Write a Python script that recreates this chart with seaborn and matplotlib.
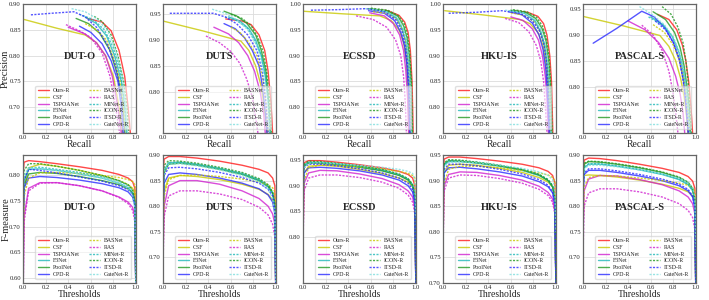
import pandas as pd
import matplotlib
matplotlib.use('Agg')
import matplotlib.pyplot as plt
import seaborn as sns

methods = ['Ours-R', 'CSF', 'TSPOANet', 'F3Net', 'PoolNet', 'CPD-R',
           'BASNet', 'RAS', 'MINet-R', 'ICON-R', 'ITSD-R', 'GateNet-R']
datasets = ['DUT-O', 'DUTS', 'ECSSD', 'HKU-IS', 'PASCAL-S']
thresholds = [0.0, 0.01, 0.05, 0.15, 0.3, 0.5, 0.7, 0.85, 0.93, 0.97, 0.99, 1.0]

# ---- PR curves (recall, precision) ----
dut_o_recall = {
    'Ours-R': [0.57, 0.70, 0.78, 0.85, 0.90, 0.93, 0.95],
    'CSF': [0.01, 0.30, 0.55, 0.65, 0.73, 0.80, 0.85, 0.88],
    'TSPOANet': [0.40, 0.55, 0.65, 0.73, 0.79, 0.84, 0.87],
    'F3Net': [0.55, 0.65, 0.74, 0.81, 0.87, 0.90, 0.915],
    'PoolNet': [0.47, 0.58, 0.68, 0.77, 0.84, 0.88, 0.90],
    'CPD-R': [0.50, 0.60, 0.70, 0.78, 0.84, 0.87, 0.885],
    'BASNet': [0.55, 0.65, 0.74, 0.81, 0.86, 0.89, 0.90],
    'RAS': [0.38, 0.50, 0.60, 0.70, 0.77, 0.82, 0.855],
    'MINet-R': [0.50, 0.62, 0.72, 0.80, 0.86, 0.90, 0.92],
    'ICON-R': [0.63, 0.70, 0.78, 0.84, 0.89, 0.92, 0.935],
    'ITSD-R': [0.07, 0.25, 0.45, 0.55, 0.65, 0.75, 0.82, 0.87, 0.895],
    'GateNet-R': [0.43, 0.55, 0.65, 0.75, 0.82, 0.88, 0.91, 0.925],
}
dut_o_precision = {
    'Ours-R': [0.872, 0.865, 0.848, 0.81, 0.76, 0.70, 0.65],
    'CSF': [0.870, 0.853, 0.840, 0.825, 0.80, 0.76, 0.70, 0.65],
    'TSPOANet': [0.855, 0.842, 0.825, 0.80, 0.76, 0.70, 0.65],
    'F3Net': [0.875, 0.862, 0.838, 0.80, 0.75, 0.70, 0.65],
    'PoolNet': [0.872, 0.862, 0.843, 0.81, 0.76, 0.71, 0.65],
    'CPD-R': [0.857, 0.845, 0.823, 0.79, 0.75, 0.70, 0.65],
    'BASNet': [0.862, 0.85, 0.83, 0.79, 0.75, 0.70, 0.65],
    'RAS': [0.860, 0.848, 0.835, 0.805, 0.76, 0.70, 0.65],
    'MINet-R': [0.880, 0.870, 0.850, 0.815, 0.77, 0.71, 0.65],
    'ICON-R': [0.876, 0.866, 0.84, 0.80, 0.75, 0.70, 0.65],
    'ITSD-R': [0.879, 0.882, 0.885, 0.875, 0.855, 0.82, 0.78, 0.72, 0.65],
    'GateNet-R': [0.891, 0.885, 0.872, 0.848, 0.81, 0.76, 0.70, 0.65],
}

duts_recall = {
    'Ours-R': [0.555, 0.70, 0.78, 0.85, 0.90, 0.93, 0.955, 0.97],
    'CSF': [0.0, 0.35, 0.69, 0.76, 0.82, 0.87, 0.90, 0.92],
    'TSPOANet': [0.45, 0.58, 0.67, 0.75, 0.81, 0.86, 0.89, 0.905],
    'F3Net': [0.58, 0.68, 0.76, 0.82, 0.87, 0.905, 0.93, 0.945],
    'PoolNet': [0.54, 0.65, 0.74, 0.82, 0.87, 0.91, 0.935, 0.95],
    'CPD-R': [0.54, 0.64, 0.72, 0.79, 0.85, 0.88, 0.905, 0.92],
    'BASNet': [0.60, 0.68, 0.76, 0.83, 0.88, 0.91, 0.93],
    'RAS': [0.38, 0.50, 0.60, 0.68, 0.74, 0.79, 0.82, 0.84],
    'MINet-R': [0.55, 0.65, 0.74, 0.81, 0.87, 0.91, 0.935, 0.95],
    'ICON-R': [0.60, 0.70, 0.78, 0.84, 0.89, 0.92, 0.945, 0.96],
    'ITSD-R': [0.06, 0.25, 0.445, 0.55, 0.65, 0.75, 0.83, 0.88, 0.91, 0.93],
    'GateNet-R': [0.435, 0.55, 0.65, 0.75, 0.83, 0.88, 0.92, 0.945],
}
duts_precision = {
    'Ours-R': [0.941, 0.937, 0.93, 0.91, 0.88, 0.84, 0.78, 0.72],
    'CSF': [0.937, 0.918, 0.898, 0.88, 0.85, 0.81, 0.76, 0.72],
    'TSPOANet': [0.925, 0.912, 0.895, 0.87, 0.84, 0.80, 0.76, 0.72],
    'F3Net': [0.945, 0.937, 0.922, 0.90, 0.87, 0.83, 0.78, 0.72],
    'PoolNet': [0.956, 0.947, 0.933, 0.91, 0.88, 0.84, 0.78, 0.72],
    'CPD-R': [0.932, 0.922, 0.905, 0.88, 0.85, 0.81, 0.76, 0.72],
    'BASNet': [0.925, 0.915, 0.895, 0.87, 0.83, 0.78, 0.72],
    'RAS': [0.908, 0.895, 0.878, 0.855, 0.825, 0.79, 0.75, 0.72],
    'MINet-R': [0.945, 0.938, 0.925, 0.90, 0.87, 0.83, 0.78, 0.72],
    'ICON-R': [0.950, 0.942, 0.928, 0.905, 0.875, 0.835, 0.78, 0.72],
    'ITSD-R': [0.952, 0.952, 0.952, 0.945, 0.932, 0.91, 0.88, 0.84, 0.78, 0.72],
    'GateNet-R': [0.960, 0.952, 0.94, 0.92, 0.89, 0.85, 0.79, 0.72],
}

ecssd_recall = {
    'Ours-R': [0.58, 0.75, 0.85, 0.90, 0.93, 0.95, 0.965, 0.975],
    'CSF': [0.0, 0.35, 0.68, 0.78, 0.85, 0.89, 0.915, 0.93, 0.94],
    'TSPOANet': [0.59, 0.72, 0.80, 0.855, 0.89, 0.91, 0.925, 0.935],
    'F3Net': [0.60, 0.74, 0.83, 0.88, 0.91, 0.93, 0.945, 0.955],
    'PoolNet': [0.58, 0.74, 0.84, 0.89, 0.92, 0.94, 0.955, 0.965],
    'CPD-R': [0.58, 0.72, 0.81, 0.865, 0.90, 0.92, 0.935, 0.945],
    'BASNet': [0.62, 0.74, 0.83, 0.88, 0.91, 0.93, 0.945, 0.955],
    'RAS': [0.47, 0.62, 0.74, 0.82, 0.865, 0.89, 0.905, 0.915],
    'MINet-R': [0.58, 0.73, 0.83, 0.885, 0.915, 0.935, 0.95, 0.96],
    'ICON-R': [0.60, 0.75, 0.84, 0.895, 0.925, 0.945, 0.96, 0.97],
    'ITSD-R': [0.07, 0.30, 0.56, 0.72, 0.82, 0.875, 0.905, 0.925, 0.94, 0.95],
    'GateNet-R': [0.55, 0.72, 0.83, 0.885, 0.915, 0.935, 0.95, 0.96],
}
ecssd_precision = {
    'Ours-R': [0.990, 0.987, 0.978, 0.965, 0.945, 0.91, 0.85, 0.75],
    'CSF': [0.986, 0.981, 0.977, 0.968, 0.95, 0.925, 0.89, 0.83, 0.75],
    'TSPOANet': [0.983, 0.977, 0.962, 0.94, 0.91, 0.87, 0.82, 0.75],
    'F3Net': [0.990, 0.985, 0.972, 0.95, 0.925, 0.89, 0.84, 0.75],
    'PoolNet': [0.991, 0.987, 0.976, 0.958, 0.935, 0.90, 0.85, 0.75],
    'CPD-R': [0.987, 0.982, 0.968, 0.945, 0.918, 0.88, 0.83, 0.75],
    'BASNet': [0.985, 0.982, 0.97, 0.95, 0.925, 0.89, 0.84, 0.75],
    'RAS': [0.977, 0.970, 0.955, 0.93, 0.90, 0.86, 0.81, 0.75],
    'MINet-R': [0.990, 0.986, 0.973, 0.952, 0.928, 0.89, 0.84, 0.75],
    'ICON-R': [0.992, 0.988, 0.978, 0.962, 0.94, 0.905, 0.85, 0.75],
    'ITSD-R': [0.988, 0.989, 0.991, 0.985, 0.97, 0.948, 0.92, 0.885, 0.83, 0.75],
    'GateNet-R': [0.991, 0.987, 0.975, 0.955, 0.93, 0.895, 0.84, 0.75],
}

hku_recall = {
    'Ours-R': [0.62, 0.75, 0.84, 0.89, 0.92, 0.945, 0.96, 0.972],
    'CSF': [0.015, 0.35, 0.68, 0.77, 0.84, 0.885, 0.91, 0.93, 0.945],
    'TSPOANet': [0.60, 0.71, 0.79, 0.845, 0.88, 0.905, 0.92, 0.933],
    'F3Net': [0.60, 0.72, 0.815, 0.865, 0.90, 0.925, 0.94, 0.952],
    'PoolNet': [0.60, 0.73, 0.82, 0.875, 0.91, 0.935, 0.95, 0.962],
    'CPD-R': [0.58, 0.70, 0.79, 0.85, 0.885, 0.91, 0.925, 0.94],
    'BASNet': [0.60, 0.72, 0.81, 0.865, 0.90, 0.925, 0.94, 0.952],
    'RAS': [0.55, 0.67, 0.76, 0.825, 0.865, 0.89, 0.905, 0.92],
    'MINet-R': [0.58, 0.71, 0.81, 0.865, 0.90, 0.925, 0.94, 0.953],
    'ICON-R': [0.62, 0.74, 0.83, 0.88, 0.915, 0.94, 0.955, 0.967],
    'ITSD-R': [0.05, 0.30, 0.52, 0.68, 0.78, 0.85, 0.89, 0.915, 0.93, 0.945],
    'GateNet-R': [0.55, 0.70, 0.81, 0.87, 0.905, 0.93, 0.945, 0.957],
}
hku_precision = {
    'Ours-R': [0.987, 0.984, 0.976, 0.962, 0.94, 0.90, 0.85, 0.75],
    'CSF': [0.987, 0.979, 0.970, 0.962, 0.945, 0.92, 0.885, 0.83, 0.75],
    'TSPOANet': [0.975, 0.968, 0.952, 0.93, 0.90, 0.86, 0.815, 0.75],
    'F3Net': [0.987, 0.982, 0.967, 0.945, 0.918, 0.878, 0.83, 0.75],
    'PoolNet': [0.988, 0.984, 0.972, 0.953, 0.93, 0.89, 0.84, 0.75],
    'CPD-R': [0.985, 0.979, 0.963, 0.94, 0.912, 0.873, 0.825, 0.75],
    'BASNet': [0.983, 0.978, 0.965, 0.945, 0.92, 0.88, 0.83, 0.75],
    'RAS': [0.972, 0.964, 0.946, 0.92, 0.89, 0.85, 0.805, 0.75],
    'MINet-R': [0.987, 0.983, 0.969, 0.948, 0.922, 0.88, 0.83, 0.75],
    'ICON-R': [0.989, 0.985, 0.974, 0.957, 0.933, 0.895, 0.84, 0.75],
    'ITSD-R': [0.982, 0.984, 0.987, 0.982, 0.97, 0.95, 0.925, 0.89, 0.84, 0.75],
    'GateNet-R': [0.988, 0.984, 0.97, 0.95, 0.925, 0.885, 0.835, 0.75],
}

pascal_recall = {
    'Ours-R': [0.66, 0.76, 0.83, 0.88, 0.91, 0.935, 0.955, 0.97],
    'CSF': [0.0, 0.35, 0.68, 0.76, 0.82, 0.865, 0.895, 0.915, 0.93],
    'TSPOANet': [0.40, 0.55, 0.67, 0.76, 0.82, 0.86, 0.885, 0.90],
    'F3Net': [0.60, 0.71, 0.79, 0.85, 0.885, 0.91, 0.93, 0.945],
    'PoolNet': [0.62, 0.73, 0.81, 0.86, 0.895, 0.92, 0.94, 0.95],
    'CPD-R': [0.09, 0.30, 0.52, 0.63, 0.73, 0.80, 0.855, 0.89, 0.91, 0.93],
    'BASNet': [0.62, 0.72, 0.80, 0.855, 0.89, 0.915, 0.93, 0.94],
    'RAS': [0.52, 0.62, 0.70, 0.76, 0.795, 0.82, 0.84],
    'MINet-R': [0.58, 0.70, 0.79, 0.85, 0.89, 0.915, 0.935, 0.95],
    'ICON-R': [0.70, 0.78, 0.84, 0.885, 0.91, 0.93, 0.945, 0.96],
    'ITSD-R': [0.64, 0.73, 0.80, 0.85, 0.88, 0.905, 0.92, 0.935],
    'GateNet-R': [0.50, 0.61, 0.72, 0.80, 0.855, 0.89, 0.915, 0.935, 0.945],
}
pascal_precision = {
    'Ours-R': [0.940, 0.930, 0.91, 0.88, 0.85, 0.81, 0.76, 0.71],
    'CSF': [0.936, 0.918, 0.899, 0.878, 0.85, 0.815, 0.78, 0.745, 0.71],
    'TSPOANet': [0.927, 0.91, 0.885, 0.855, 0.82, 0.785, 0.75, 0.71],
    'F3Net': [0.935, 0.92, 0.897, 0.866, 0.832, 0.795, 0.755, 0.71],
    'PoolNet': [0.945, 0.93, 0.905, 0.875, 0.84, 0.80, 0.76, 0.71],
    'CPD-R': [0.884, 0.913, 0.946, 0.935, 0.912, 0.885, 0.85, 0.81, 0.765, 0.71],
    'BASNet': [0.92, 0.905, 0.88, 0.85, 0.815, 0.78, 0.745, 0.71],
    'RAS': [0.919, 0.90, 0.87, 0.83, 0.79, 0.75, 0.71],
    'MINet-R': [0.935, 0.92, 0.898, 0.868, 0.835, 0.80, 0.76, 0.71],
    'ICON-R': [0.955, 0.94, 0.915, 0.885, 0.85, 0.81, 0.76, 0.71],
    'ITSD-R': [0.927, 0.91, 0.885, 0.855, 0.82, 0.785, 0.75, 0.71],
    'GateNet-R': [0.955, 0.94, 0.92, 0.895, 0.865, 0.83, 0.79, 0.75, 0.71],
}

# ---- F-measure vs threshold, one value per entry of `thresholds` ----
dut_o_fmeasure = {
    'Ours-R': [0.80, 0.826, 0.829, 0.827, 0.823, 0.817, 0.810, 0.802, 0.795, 0.788, 0.775, 0.55],
    'CSF': [0.70, 0.78, 0.815, 0.822, 0.818, 0.810, 0.800, 0.790, 0.782, 0.775, 0.765, 0.55],
    'TSPOANet': [0.55, 0.72, 0.775, 0.786, 0.786, 0.780, 0.770, 0.758, 0.748, 0.738, 0.72, 0.55],
    'F3Net': [0.72, 0.79, 0.812, 0.813, 0.810, 0.803, 0.795, 0.785, 0.776, 0.766, 0.745, 0.55],
    'PoolNet': [0.70, 0.78, 0.803, 0.806, 0.804, 0.798, 0.790, 0.782, 0.774, 0.765, 0.745, 0.55],
    'CPD-R': [0.70, 0.775, 0.795, 0.798, 0.796, 0.791, 0.784, 0.776, 0.768, 0.758, 0.74, 0.55],
    'BASNet': [0.62, 0.76, 0.795, 0.805, 0.806, 0.804, 0.800, 0.796, 0.792, 0.788, 0.782, 0.76],
    'RAS': [0.55, 0.71, 0.770, 0.785, 0.786, 0.780, 0.770, 0.757, 0.745, 0.732, 0.71, 0.55],
    'MINet-R': [0.72, 0.795, 0.815, 0.816, 0.812, 0.806, 0.798, 0.789, 0.780, 0.77, 0.75, 0.55],
    'ICON-R': [0.74, 0.81, 0.823, 0.823, 0.818, 0.810, 0.800, 0.790, 0.782, 0.772, 0.752, 0.55],
    'ITSD-R': [0.70, 0.79, 0.812, 0.810, 0.805, 0.797, 0.789, 0.78, 0.772, 0.763, 0.745, 0.55],
    'GateNet-R': [0.72, 0.80, 0.815, 0.814, 0.81, 0.803, 0.795, 0.785, 0.775, 0.76, 0.735, 0.55],
}
duts_fmeasure = {
    'Ours-R': [0.86, 0.892, 0.897, 0.897, 0.894, 0.888, 0.880, 0.872, 0.865, 0.855, 0.84, 0.60],
    'CSF': [0.75, 0.83, 0.855, 0.860, 0.858, 0.852, 0.843, 0.833, 0.823, 0.812, 0.795, 0.60],
    'TSPOANet': [0.70, 0.80, 0.840, 0.850, 0.850, 0.843, 0.830, 0.815, 0.800, 0.785, 0.765, 0.60],
    'F3Net': [0.80, 0.87, 0.885, 0.886, 0.882, 0.874, 0.864, 0.852, 0.840, 0.827, 0.805, 0.60],
    'PoolNet': [0.79, 0.865, 0.882, 0.884, 0.880, 0.872, 0.862, 0.850, 0.838, 0.825, 0.80, 0.60],
    'CPD-R': [0.78, 0.845, 0.862, 0.865, 0.862, 0.855, 0.845, 0.834, 0.822, 0.808, 0.785, 0.60],
    'BASNet': [0.70, 0.82, 0.852, 0.860, 0.861, 0.858, 0.853, 0.847, 0.842, 0.836, 0.828, 0.78],
    'RAS': [0.68, 0.78, 0.82, 0.830, 0.830, 0.824, 0.813, 0.798, 0.783, 0.765, 0.74, 0.60],
    'MINet-R': [0.80, 0.87, 0.884, 0.885, 0.881, 0.873, 0.863, 0.850, 0.838, 0.824, 0.80, 0.60],
    'ICON-R': [0.82, 0.88, 0.889, 0.888, 0.884, 0.876, 0.866, 0.854, 0.842, 0.828, 0.805, 0.60],
    'ITSD-R': [0.78, 0.86, 0.875, 0.876, 0.873, 0.866, 0.856, 0.845, 0.833, 0.82, 0.795, 0.60],
    'GateNet-R': [0.80, 0.868, 0.882, 0.883, 0.879, 0.871, 0.86, 0.847, 0.833, 0.815, 0.785, 0.60],
}
ecssd_fmeasure = {
    'Ours-R': [0.92, 0.945, 0.949, 0.949, 0.946, 0.941, 0.935, 0.928, 0.922, 0.915, 0.90, 0.68],
    'CSF': [0.85, 0.925, 0.938, 0.940, 0.938, 0.932, 0.924, 0.915, 0.907, 0.898, 0.88, 0.68],
    'TSPOANet': [0.80, 0.905, 0.925, 0.930, 0.929, 0.923, 0.914, 0.902, 0.89, 0.878, 0.855, 0.68],
    'F3Net': [0.90, 0.94, 0.945, 0.945, 0.942, 0.937, 0.930, 0.921, 0.912, 0.90, 0.88, 0.68],
    'PoolNet': [0.90, 0.938, 0.944, 0.944, 0.941, 0.936, 0.929, 0.920, 0.911, 0.90, 0.88, 0.68],
    'CPD-R': [0.86, 0.925, 0.935, 0.936, 0.934, 0.929, 0.921, 0.911, 0.90, 0.888, 0.865, 0.68],
    'BASNet': [0.80, 0.91, 0.935, 0.940, 0.940, 0.937, 0.933, 0.928, 0.924, 0.92, 0.915, 0.87],
    'RAS': [0.78, 0.89, 0.915, 0.921, 0.921, 0.916, 0.907, 0.895, 0.882, 0.868, 0.845, 0.68],
    'MINet-R': [0.90, 0.94, 0.946, 0.946, 0.943, 0.938, 0.931, 0.922, 0.913, 0.902, 0.882, 0.68],
    'ICON-R': [0.90, 0.942, 0.948, 0.947, 0.944, 0.939, 0.932, 0.923, 0.914, 0.903, 0.88, 0.68],
    'ITSD-R': [0.88, 0.935, 0.942, 0.942, 0.939, 0.933, 0.925, 0.915, 0.905, 0.893, 0.87, 0.68],
    'GateNet-R': [0.88, 0.935, 0.944, 0.945, 0.943, 0.940, 0.936, 0.932, 0.928, 0.924, 0.91, 0.84],
}
hku_fmeasure = {
    'Ours-R': [0.90, 0.942, 0.946, 0.946, 0.943, 0.938, 0.932, 0.925, 0.918, 0.91, 0.895, 0.68],
    'CSF': [0.83, 0.915, 0.930, 0.932, 0.930, 0.924, 0.916, 0.906, 0.897, 0.887, 0.87, 0.68],
    'TSPOANet': [0.78, 0.89, 0.912, 0.917, 0.916, 0.910, 0.901, 0.889, 0.877, 0.864, 0.84, 0.68],
    'F3Net': [0.88, 0.93, 0.937, 0.937, 0.934, 0.928, 0.920, 0.910, 0.90, 0.888, 0.865, 0.68],
    'PoolNet': [0.88, 0.932, 0.939, 0.938, 0.935, 0.929, 0.921, 0.911, 0.90, 0.888, 0.865, 0.68],
    'CPD-R': [0.85, 0.915, 0.925, 0.926, 0.923, 0.917, 0.909, 0.898, 0.888, 0.876, 0.852, 0.68],
    'BASNet': [0.78, 0.895, 0.922, 0.928, 0.928, 0.925, 0.920, 0.915, 0.911, 0.906, 0.90, 0.86],
    'RAS': [0.76, 0.88, 0.905, 0.911, 0.910, 0.904, 0.895, 0.883, 0.871, 0.858, 0.835, 0.68],
    'MINet-R': [0.88, 0.932, 0.939, 0.939, 0.936, 0.930, 0.922, 0.912, 0.902, 0.89, 0.868, 0.68],
    'ICON-R': [0.89, 0.935, 0.941, 0.940, 0.936, 0.930, 0.922, 0.912, 0.902, 0.89, 0.865, 0.68],
    'ITSD-R': [0.86, 0.922, 0.932, 0.932, 0.929, 0.922, 0.913, 0.902, 0.891, 0.878, 0.855, 0.68],
    'GateNet-R': [0.87, 0.928, 0.936, 0.937, 0.935, 0.930, 0.924, 0.917, 0.91, 0.902, 0.885, 0.80],
}
pascal_fmeasure = {
    'Ours-R': [0.86, 0.890, 0.894, 0.893, 0.889, 0.882, 0.874, 0.866, 0.858, 0.849, 0.835, 0.60],
    'CSF': [0.855, 0.860, 0.861, 0.860, 0.857, 0.851, 0.843, 0.835, 0.828, 0.82, 0.81, 0.60],
    'TSPOANet': [0.74, 0.83, 0.853, 0.860, 0.859, 0.852, 0.842, 0.830, 0.818, 0.805, 0.785, 0.60],
    'F3Net': [0.83, 0.875, 0.882, 0.882, 0.878, 0.871, 0.862, 0.852, 0.842, 0.83, 0.81, 0.60],
    'PoolNet': [0.84, 0.882, 0.887, 0.886, 0.882, 0.875, 0.866, 0.856, 0.846, 0.834, 0.812, 0.60],
    'CPD-R': [0.82, 0.862, 0.870, 0.870, 0.866, 0.859, 0.850, 0.840, 0.830, 0.818, 0.797, 0.60],
    'BASNet': [0.75, 0.838, 0.856, 0.860, 0.859, 0.855, 0.850, 0.845, 0.841, 0.836, 0.83, 0.80],
    'RAS': [0.70, 0.80, 0.826, 0.834, 0.834, 0.828, 0.818, 0.805, 0.792, 0.778, 0.755, 0.60],
    'MINet-R': [0.83, 0.876, 0.883, 0.883, 0.879, 0.872, 0.863, 0.853, 0.843, 0.832, 0.812, 0.60],
    'ICON-R': [0.85, 0.884, 0.888, 0.887, 0.883, 0.876, 0.867, 0.857, 0.847, 0.835, 0.813, 0.60],
    'ITSD-R': [0.82, 0.865, 0.873, 0.873, 0.869, 0.862, 0.853, 0.843, 0.833, 0.82, 0.798, 0.60],
    'GateNet-R': [0.83, 0.872, 0.88, 0.88, 0.877, 0.871, 0.863, 0.855, 0.846, 0.836, 0.818, 0.72],
}

pr_ylims = [(0.65, 0.90), (0.72, 0.97), (0.75, 1.0), (0.75, 1.0), (0.71, 0.96)]
pr_yticks = [[0.70, 0.75, 0.80, 0.85, 0.90], [0.80, 0.85, 0.90, 0.95],
             [0.80, 0.85, 0.90, 0.95, 1.00], [0.80, 0.85, 0.90, 0.95, 1.00],
             [0.80, 0.85, 0.90, 0.95]]
f_ylims = [(0.59, 0.84), (0.65, 0.90), (0.71, 0.96), (0.70, 0.95), (0.65, 0.90)]
f_yticks = [[0.60, 0.65, 0.70, 0.75, 0.80], [0.70, 0.75, 0.80, 0.85, 0.90],
            [0.80, 0.85, 0.90, 0.95], [0.70, 0.75, 0.80, 0.85, 0.90, 0.95],
            [0.70, 0.75, 0.80, 0.85, 0.90]]

recalls = [dut_o_recall, duts_recall, ecssd_recall, hku_recall, pascal_recall]
precisions = [dut_o_precision, duts_precision, ecssd_precision, hku_precision, pascal_precision]
fmeasures = [dut_o_fmeasure, duts_fmeasure, ecssd_fmeasure, hku_fmeasure, pascal_fmeasure]

colors = ['#ff1a1a', '#c8c800', '#d020d0', '#20b8b8', '#229922', '#2a2aff',
          '#c8c800', '#d020d0', '#20b8b8', '#229922', '#2a2aff', '#80dede']
styles = ['-'] * 6 + [(0, (1.5, 1))] * 6

sns.set_style('whitegrid', {'axes.edgecolor': '#666666', 'grid.color': '#dcdcdc'})
plt.rcParams['font.family'] = ['Liberation Serif', 'DejaVu Serif']

fig = plt.figure(figsize=(7.09, 3.0), dpi=100)
lefts = [23, 163, 303, 443, 583]


def style_axes(ax, ylim, yticks, xlabel, name):
    ax.set_xlim(0, 1)
    ax.set_ylim(*ylim)
    ax.set_xticks([0.0, 0.2, 0.4, 0.6, 0.8, 1.0])
    ax.set_yticks(yticks)
    ax.set_xticklabels(['0.0', '0.2', '0.4', '0.6', '0.8', '1.0'])
    ax.set_yticklabels(['%.2f' % t for t in yticks])
    ax.tick_params(labelsize=4.8, pad=1.5, length=0)
    ax.grid(True, lw=0.6)
    for s in ax.spines.values():
        s.set_linewidth(0.9)
    ax.set_xlabel(xlabel, fontsize=7, labelpad=0)
    ax.set_ylabel('')
    ax.text(0.5, 0.59, name, transform=ax.transAxes, ha='center', va='center',
            fontsize=7.5, fontweight='bold')
    handles = ax.get_lines()[:len(methods)]
    ax.legend(handles, methods, ncol=2, loc='lower right', fontsize=4.2,
              handlelength=1.9, columnspacing=1.6, labelspacing=0.28,
              borderpad=0.45, handletextpad=0.6, frameon=True, framealpha=0.6,
              edgecolor='#cccccc', fancybox=True, bbox_to_anchor=(0.985, 0.005))


for i, name in enumerate(datasets):
    ax = fig.add_axes([lefts[i] / 709, 1 - 133 / 300, 113 / 709, 129 / 300])
    for j, m in enumerate(methods):
        df = pd.DataFrame({'Recall': recalls[i][m], 'Precision': precisions[i][m]})
        sns.lineplot(data=df, x='Recall', y='Precision', ax=ax, color=colors[j],
                     linestyle=styles[j], lw=1.0, alpha=0.8, sort=False,
                     estimator=None, legend=False)
    style_axes(ax, pr_ylims[i], pr_yticks[i], 'Recall', name)
    if i == 0:
        ax.set_ylabel('Precision', fontsize=7.5)
        ax.yaxis.set_label_coords(-0.12, 0.5)

    ax = fig.add_axes([lefts[i] / 709, 1 - 283 / 300, 113 / 709, 128 / 300])
    for j, m in enumerate(methods):
        df = pd.DataFrame({'Thresholds': thresholds, 'F-measure': fmeasures[i][m]})
        sns.lineplot(data=df, x='Thresholds', y='F-measure', ax=ax, color=colors[j],
                     linestyle=styles[j], lw=1.0, alpha=0.8, sort=False,
                     estimator=None, legend=False)
    style_axes(ax, f_ylims[i], f_yticks[i], 'Thresholds', name)
    if i == 0:
        ax.set_ylabel('F-measure', fontsize=7.5)
        ax.yaxis.set_label_coords(-0.11, 0.5)

fig.savefig('out.png', dpi=100)
